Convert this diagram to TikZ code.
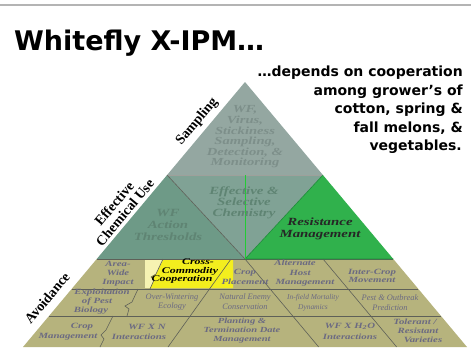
\documentclass[tikz,border=0pt]{standalone}
\usepackage{fontspec}
\setmainfont{Liberation Serif}
\newfontfamily\widefont[FakeStretch=1.35]{Liberation Serif}
\newfontfamily\headfont{DejaVu Sans}
\usetikzlibrary{calc}

\definecolor{sampgray}{HTML}{94A7A1}
\definecolor{chemdark}{HTML}{6E9A87}
\definecolor{chemmid}{HTML}{80A295}
\definecolor{resgreen}{HTML}{30B14C}
\definecolor{resedge}{HTML}{1E8A3A}
\definecolor{avoidolive}{HTML}{B6B37D}
\definecolor{coopyellow}{HTML}{F3EE1E}
\definecolor{paleyellow}{HTML}{F6F3B2}
\definecolor{rulegray}{HTML}{B4B4B4}
\definecolor{edgegray}{HTML}{5E6058}
\definecolor{sampink}{HTML}{7D8F8A}
\definecolor{chemink}{HTML}{5F8473}
\definecolor{avoidink}{HTML}{6B6A82}
\definecolor{splitgreen}{HTML}{22CC33}

\begin{document}
\begin{tikzpicture}[x=1pt,y=-1pt,
  cell/.style={edgegray,line width=0.6pt},
  lbl/.style 2 args={font=\widefont\bfseries\itshape\fontsize{#1}{#2}\selectfont,
    text=avoidink,align=center,inner sep=0pt},
  plainlbl/.style={lbl={8.4}{9.5},font=\rmfamily\itshape\fontsize{8.4}{9.5}\selectfont},
  edgelbl/.style={font=\bfseries\fontsize{14}{14}\selectfont,rotate=50,align=center,inner sep=0pt}]
\useasboundingbox (0,0) rectangle (471,356);
\draw[rulegray,line width=1.5pt] (0,5) -- (471,5);

% pyramid corners and band levels
\coordinate (apex) at (245,82);
\coordinate (bl) at (23,347);
\coordinate (br) at (467,347);
\coordinate (sl) at ($(apex)!.351!(bl)$);
\coordinate (sr) at ($(apex)!.351!(br)$);
\coordinate (ml) at ($(apex)!.668!(bl)$);
\coordinate (mr) at ($(apex)!.668!(br)$);
\coordinate (mc) at (245,259);
\coordinate (r1l) at ($(apex)!.781!(bl)$);
\coordinate (r1r) at ($(apex)!.781!(br)$);
\coordinate (r2l) at ($(apex)!.883!(bl)$);
\coordinate (r2r) at ($(apex)!.883!(br)$);

\fill[sampgray] (apex) -- (sl) -- (sr) -- cycle;
\fill[chemdark] (sl) -- (ml) -- (mc) -- cycle;
\fill[chemmid] (sl) -- (sr) -- (mc) -- cycle;
\fill[resgreen] (sr) -- (mc) -- (mr) -- cycle;
\fill[avoidolive] (ml) -- (mr) -- (br) -- (bl) -- cycle;
\fill[paleyellow] (145,260) rectangle (233,288);
\fill[coopyellow] (163,260) -- (156,274) -- (151,277) -- (154,280) -- (150,288)
  -- (233,288) -- (233,260) -- cycle;

% cell borders
\draw[cell,edgegray!60] (sl) -- (sr);
\draw[cell] (sl) -- (mc);
\draw[cell] (ml) -- (mr);
\draw[cell] (r1l) -- (r1r);
\draw[cell] (r2l) -- (r2r);
\draw[cell] (mc) -- ($(mc)+(73.7,88)$);
\draw[cell] (323,259) -- (396.7,347);
\draw[cell] (231,259) -- (168,347);
\draw[cell] (163,259) -- (156,274) -- (151,277) -- (154,280) -- (150,289);
\draw[cell] (138,289) -- (132,302) -- (125,306) -- (129,309) -- (127,316);
\draw[cell] (113,316) -- (106,330) -- (101,335) -- (104,339) -- (100,347);
\draw[resedge,line width=0.6pt] (sr) -- (mc) -- (mr);
\draw[splitgreen,line width=0.7pt] ($(sl)!.5!(sr)$) -- (mc);

% headings
\node[font=\headfont\bfseries\fontsize{27}{27}\selectfont,anchor=base west,inner sep=0pt]
  (title) at (14,50) {Whitefly X-IPM…};
\node[font=\headfont\bfseries\fontsize{14}{18.5}\selectfont,align=right,anchor=north east,inner sep=0pt]
  (note) at (463,66) {…depends on cooperation\\among grower’s of\hspace*{15pt}\\
  cotton, spring \&\hspace*{16pt}\\fall melons, \&\hspace*{6pt}\\vegetables.\hspace*{1pt}};

% side labels
\node[edgelbl] (samp) at (197,122) {Sampling};
\node[edgelbl] (chem) at (119.5,208) {Effective\\Chemical Use};
\node[edgelbl] (avoid) at (47,298) {Avoidance};

% top and middle bands
\node[lbl={10.8}{10.6},text=sampink] (monitor) at (245,137)
  {WF,\\Virus,\\Stickiness\\Sampling,\\Detection, \&\\Monitoring};
\node[lbl={11}{12},text=chemink] (thresh) at (168,225) {WF\\Action\\Thresholds};
\node[lbl={11}{11},text=chemink] (selective) at (244,203) {Effective \&\\Selective\\Chemistry};
\node[lbl={11}{12},text=black!85] (resist) at (320,229) {Resistance\\Management};

% avoidance, row 1
\node[lbl={8}{9}] (areawide) at (118,274) {Area-\\Wide\\Impact};
\node[lbl={8.8}{8.5},text=black] (coop) at (190,271.5)
  {\hspace*{16pt}Cross-\\Commodity\\Cooperation\hspace*{16pt}};
\node[lbl={8}{10}] (placement) at (245,277) {Crop\\Placement};
\node[lbl={8}{9.5}] (althost) at (300,273.5)
  {Alternate\hspace*{10pt}\\Host\hspace*{4pt}\\\hspace*{10pt}Management};
\node[lbl={8}{8.5}] (intercrop) at (372,276) {Inter-Crop\\Movement};

% avoidance, row 2
\node[lbl={8}{9}] (exploit) at (97,302)
  {\hspace*{10pt}Exploitation\\of Pest\\Biology\hspace*{12pt}};
\node[plainlbl] (winter) at (172,302) {Over-Wintering\\Ecology};
\node[plainlbl] (enemy) at (245,301.5) {Natural Enemy\\Conservation};
\node[plainlbl,font=\rmfamily\itshape\fontsize{7.4}{9.5}\selectfont] (infield) at (313,302.5)
  {In-field Mortality\\Dynamics};
\node[plainlbl] (outbreak) at (390,302.5) {Pest \& Outbreak\\Prediction};

% avoidance, row 3
\node[lbl={8}{10}] (cropmgmt) at (75,332) {\hspace*{14pt}Crop\\Management\hspace*{14pt}};
\node[lbl={8}{10}] (wfn) at (143,332) {\hspace*{8pt}WF X N\\Interactions\hspace*{8pt}};
\node[lbl={7.8}{9}] (planting) at (242,331) {Planting \&\\Termination Date\\Management};
\node[lbl={8}{11}] (wfwater) at (350,331.5) {WF X H\textsubscript{2}O\\Interactions};
\node[lbl={8}{9}] (tolerant) at (418,331)
  {Tolerant /\hspace*{6pt}\\Resistant\\\hspace*{10pt}Varieties};
\end{tikzpicture}
\end{document}
